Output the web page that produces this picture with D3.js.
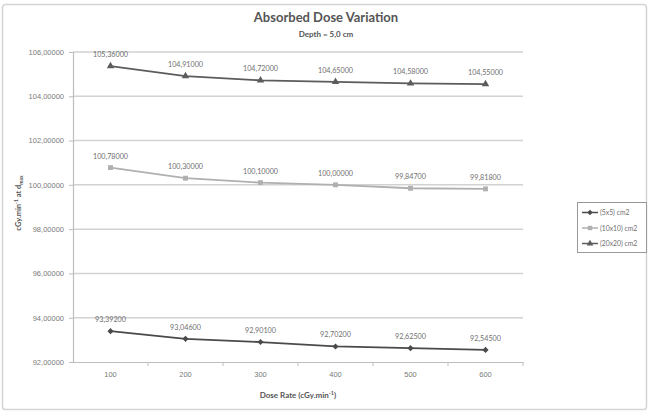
<!DOCTYPE html>
<html>
<head>
<meta charset="utf-8">
<script src="https://cdn.jsdelivr.net/npm/d3@7/dist/d3.min.js"></script>
<style>
  html, body { margin: 0; padding: 0; background: #fff; }
  svg { display: block; font-family: Lato, "Open Sans", sans-serif; }
</style>
</head>
<body>
<div id="chart"></div>
<script>
// 数据
const doseRates = ['100', '200', '300', '400', '500', '600'];
const field5x5 = [93.392, 93.046, 92.901, 92.702, 92.625, 92.545];
const field10x10 = [100.78, 100.30, 100.10, 100.00, 99.847, 99.818];
const field20x20 = [105.36, 104.91, 104.72, 104.65, 104.58, 104.55];
const yTicks = [92, 94, 96, 98, 100, 102, 104, 106];
const seriesNames = ['(5x5) cm2', '(10x10) cm2', '(20x20) cm2'];

const W = 656, H = 417;
const plot = { left: 73, right: 523, top: 52, bottom: 362 };

const series = [
  { name: seriesNames[0], values: field5x5, color: '#4a4a4a', symbol: d3.symbolDiamond2, size: 24 },
  { name: seriesNames[1], values: field10x10, color: '#b0b0b0', symbol: d3.symbolSquare, size: 24 },
  { name: seriesNames[2], values: field20x20, color: '#5c5c5c', symbol: d3.symbolTriangle, size: 24 }
];

const fmt = v => d3.format('.5f')(v).replace('.', ',');

const svg = d3.select('#chart').append('svg')
  .attr('width', W).attr('height', H);

// 外框
svg.append('rect')
  .attr('x', 2.5).attr('y', 4.5).attr('width', 644).attr('height', 405)
  .attr('rx', 3)
  .attr('fill', '#fff').attr('stroke', '#d4d4d4').attr('stroke-width', 1.5);

const x = d3.scaleBand().domain(doseRates).range([plot.left, plot.right]);
const y = d3.scaleLinear().domain([92, 106]).range([plot.bottom, plot.top]);

// 网格线
svg.append('g')
  .selectAll('line')
  .data(yTicks.filter(t => t !== 92))
  .enter().append('line')
  .attr('x1', plot.left).attr('x2', plot.right)
  .attr('y1', d => y(d)).attr('y2', d => y(d))
  .attr('stroke', '#d2d2d2').attr('stroke-width', 1.5);

// Y 轴
const yAxis = svg.append('g')
  .attr('transform', `translate(${plot.left},0)`)
  .call(d3.axisLeft(y).tickValues(yTicks).tickFormat(fmt).tickSize(4).tickPadding(5));
yAxis.select('.domain').attr('stroke', '#bdbdbd').attr('stroke-width', 1.2);
yAxis.selectAll('.tick line').attr('stroke', '#bdbdbd');
yAxis.selectAll('text').attr('fill', '#7a7a7a').attr('font-size', 7.5);

// X 轴
const xAxis = svg.append('g')
  .attr('transform', `translate(0,${plot.bottom})`)
  .call(d3.axisBottom(x).tickSize(0).tickPadding(10));
xAxis.select('.domain').attr('stroke', '#bdbdbd').attr('stroke-width', 1.2);
xAxis.selectAll('text').attr('fill', '#7a7a7a').attr('font-size', 7.5);
// 类别之间的刻度
xAxis.append('g')
  .selectAll('line')
  .data(doseRates)
  .enter().append('line')
  .attr('x1', d => x(d) + x.bandwidth()).attr('x2', d => x(d) + x.bandwidth())
  .attr('y1', 0).attr('y2', 4)
  .attr('stroke', '#bdbdbd');

// 折线
const line = d3.line()
  .x((d, i) => x(doseRates[i]) + x.bandwidth() / 2)
  .y(d => y(d));

series.forEach(s => {
  const g = svg.append('g');
  g.append('path')
    .datum(s.values)
    .attr('d', line)
    .attr('fill', 'none')
    .attr('stroke', s.color)
    .attr('stroke-width', 1.8);

  g.selectAll('path.mk')
    .data(s.values)
    .enter().append('path')
    .attr('class', 'mk')
    .attr('d', d3.symbol().type(s.symbol).size(s.size))
    .attr('transform', (d, i) => `translate(${x(doseRates[i]) + x.bandwidth() / 2},${y(d)})`)
    .attr('fill', s.color);

  g.selectAll('text')
    .data(s.values)
    .enter().append('text')
    .attr('x', (d, i) => x(doseRates[i]) + x.bandwidth() / 2)
    .attr('y', d => y(d) - 9)
    .attr('text-anchor', 'middle')
    .attr('font-size', 7.2)
    .attr('fill', '#6f6f6f')
    .text(fmt);
});

// 标题
svg.append('text')
  .attr('x', 326).attr('y', 22)
  .attr('text-anchor', 'middle')
  .attr('font-size', 13).attr('font-weight', 'bold')
  .attr('fill', '#555')
  .text('Absorbed Dose Variation');
svg.append('text')
  .attr('x', 326).attr('y', 37)
  .attr('text-anchor', 'middle')
  .attr('font-size', 8).attr('font-weight', 'bold')
  .attr('fill', '#555')
  .text('Depth = 5,0 cm');

// 轴标题
const xt = svg.append('text')
  .attr('x', 298).attr('y', 398)
  .attr('text-anchor', 'middle')
  .attr('font-size', 8).attr('font-weight', 'bold')
  .attr('fill', '#555');
xt.append('tspan').text('Dose Rate (cGy.min');
xt.append('tspan').attr('dy', -3).attr('font-size', 5.5).text('-1');
xt.append('tspan').attr('dy', 3).text(')');

const yt = svg.append('text')
  .attr('transform', 'translate(21,203) rotate(-90)')
  .attr('text-anchor', 'middle')
  .attr('font-size', 7.5).attr('font-weight', 'bold')
  .attr('fill', '#555');
yt.append('tspan').text('cGy.min');
yt.append('tspan').attr('dy', -3).attr('font-size', 5).text('-1');
yt.append('tspan').attr('dy', 3).text(' at d');
yt.append('tspan').attr('dy', 2).attr('font-size', 5).text('max');

// 图例
const legend = svg.append('g');
legend.append('rect')
  .attr('x', 577.5).attr('y', 202.5).attr('width', 69).attr('height', 50)
  .attr('fill', '#fff').attr('stroke', '#999').attr('stroke-width', 1);
series.forEach((s, i) => {
  const ly = 212.5 + i * 15.5;
  legend.append('line')
    .attr('x1', 582).attr('x2', 598).attr('y1', ly).attr('y2', ly)
    .attr('stroke', s.color).attr('stroke-width', 1.5);
  legend.append('path')
    .attr('d', d3.symbol().type(s.symbol).size(s.size * 0.8))
    .attr('transform', `translate(590,${ly})`)
    .attr('fill', s.color);
  legend.append('text')
    .attr('x', 600).attr('y', ly + 2.5)
    .attr('font-size', 6.8).attr('fill', '#6f6f6f')
    .text(s.name);
});
</script>
</body>
</html>
